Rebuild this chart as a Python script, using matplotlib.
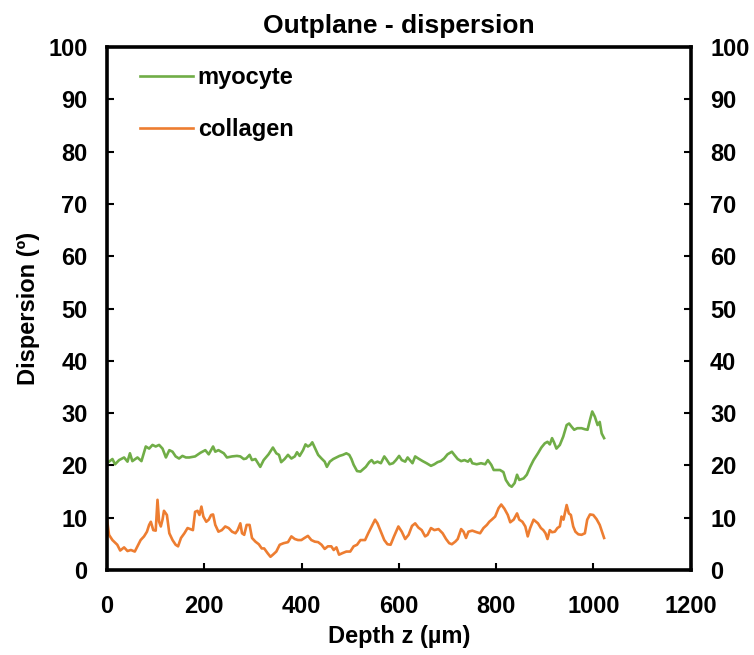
import matplotlib
matplotlib.use("Agg")
import matplotlib.pyplot as plt

# Depth profiles (µm) and dispersion (degrees)
myocyte_depth = [0, 11, 16.5, 24.7, 35, 42, 47, 52, 62.5, 70.7, 79.6, 86.5, 93.4, 100, 107, 114, 121, 128, 134.6, 141, 148, 155, 162, 169,
                 181, 192, 202, 209, 218, 222.5, 229, 240, 246.5, 257, 267, 274, 281, 286, 293, 298, 305, 315, 322, 332, 341,
                 348, 353.5, 358, 365, 372, 379, 386, 390.6, 396, 403, 408, 413, 418, 422, 427, 434, 441, 447.5, 452, 458, 465,
                 471.6, 478, 485, 492, 498, 502.5, 507, 514, 521,
                 532, 539, 544, 549, 556, 563, 570, 574, 581, 588, 594, 600.5, 606, 613, 618, 622.5, 628, 633.5, 640, 649, 657,
                 666, 673, 679.5, 686, 693, 700,
                 709, 714, 721, 728, 735, 742, 747, 751, 760, 769, 777.5, 783, 790, 795, 801.5, 808, 815, 820, 827, 832, 838,
                 843, 847.6, 856.5, 863, 870, 877,
                 886, 893, 900, 905.6, 910.4, 915, 919, 924, 931, 938, 945, 950, 955, 960.5, 967, 975.6, 982.5, 988, 993,
                 997.6, 1003, 1008.6, 1013, 1017, 1022]
myocyte = [20.4, 21.2, 20.2, 21.0, 21.5, 20.7, 22.3, 20.8, 21.5, 20.8, 23.6, 23.2, 23.9, 23.6, 23.9, 23.2, 21.5, 22.9, 22.6, 21.7, 21.3, 21.8, 21.5, 21.5,
           21.7, 22.4, 22.9, 22.1, 23.6, 22.6, 22.9, 22.3, 21.5, 21.7, 21.8, 21.7, 21.2, 21.3, 22.0, 21.0, 21.2, 19.7, 21.0, 22.1, 23.4,
           22.3, 22.0, 20.6, 21.2, 22.0, 21.3, 21.7, 22.5, 21.8, 22.9, 24.0, 23.6, 23.9, 24.4, 23.4, 22.0, 21.3, 20.7, 19.7, 20.7, 21.2,
           21.5, 21.8, 22.0, 22.3, 22.0, 21.2, 20.1, 18.9, 18.8,
           19.7, 20.6, 21.0, 20.4, 20.7, 20.4, 21.7, 21.2, 20.2, 20.4, 21.0, 21.8, 21.0, 20.7, 21.5, 21.0, 20.4, 21.7, 21.3, 20.8, 20.4,
           19.9, 20.2, 20.6, 20.8, 21.3, 22.1,
           22.6, 22.0, 21.2, 20.8, 21.0, 20.7, 21.2, 20.4, 20.2, 20.4, 20.2, 21.0, 20.1, 19.1, 19.1, 19.1, 18.7, 17.2, 16.2, 15.9, 16.6,
           18.2, 17.2, 17.5, 18.2, 19.7, 21.0,
           22.3, 23.4, 24.2, 24.5, 24.0, 25.2, 24.4, 23.2, 23.9, 25.5, 27.7, 28.0, 27.4, 26.8, 27.1, 27.1, 26.9, 26.8, 28.7,
           30.3, 29.3, 27.7, 28.3, 26.1, 25.2]

collagen_depth = [0, 4, 11, 21, 27, 35, 42, 49, 57, 62.5, 69, 76, 82, 86.5, 90, 95, 100, 103.7, 107, 110.5, 114, 117, 123, 128, 134.6,
                  141, 146, 152, 159, 165.5,
                  171, 176.5, 181, 186, 190, 194, 198, 204, 209, 214, 218, 222.5, 229, 236, 243, 250, 257, 264, 268.5, 274, 277.5,
                  282, 287, 293, 298, 305, 312, 318, 323, 330, 336, 341,
                  348, 355, 363, 372, 379, 386, 392.6, 399.5, 406, 413, 420, 427, 434, 441, 447.5, 454, 461, 466, 471.6, 477,
                  484, 492, 500, 507, 514, 521,
                  530.5, 537, 544, 551, 556, 563, 570, 576.5, 583, 590, 599, 606, 613, 620, 627, 633.5, 640, 647, 654, 659, 666,
                  673, 681.5, 690, 697,
                  703.5, 709, 716, 721, 728, 733, 738, 743, 751, 760, 767, 774, 781, 786, 791, 798, 805, 810.5, 817, 824, 829,
                  836, 843, 847.6, 854, 860, 865, 870, 877,
                  886, 892, 897, 901.5, 905.6, 910.4, 915, 920.7, 926, 931, 934.4, 938.5, 945, 949.5, 953.7, 958.5, 963, 969,
                  975.6, 982.5, 987.3, 993, 999.7, 1006.5, 1013, 1022]
collagen = [9.6, 6.7, 5.7, 4.8, 3.7, 4.3, 3.6, 3.8, 3.5, 4.5, 5.7, 6.4, 7.3, 8.6, 9.2, 7.6, 7.5, 13.4, 9.2, 8.3, 9.6, 11.3, 10.5, 7.0, 5.7,
            4.8, 4.5, 6.1, 7.0, 8.0,
            7.8, 7.6, 11.1, 11.3, 10.5, 12.1, 10.2, 9.2, 9.6, 10.5, 10.6, 8.6, 7.3, 7.6, 8.3, 8.0, 7.3, 7.0, 7.6, 8.9, 7.0,
            6.7, 8.6, 8.6, 6.1, 5.4, 4.9, 4.1, 4.1, 3.2, 2.5, 2.9,
            3.5, 4.8, 5.1, 5.3, 6.4, 5.9, 5.7, 5.7, 6.1, 6.5, 5.7, 5.4, 5.3, 4.8, 4.0, 4.5, 4.5, 3.8, 4.3, 2.9,
            3.2, 3.5, 3.5, 4.5, 4.8, 5.7,
            5.7, 7.0, 8.3, 9.6, 8.9, 7.3, 5.7, 4.9, 4.8, 6.4, 8.3, 7.3, 5.9, 6.7, 8.4, 8.9, 8.1, 7.6, 6.4, 6.7, 8.0,
            7.6, 7.8, 7.0, 5.9,
            5.1, 4.9, 5.4, 5.9, 7.8, 7.3, 6.1, 7.3, 7.5, 7.2, 7.0, 8.0, 8.6, 9.2, 9.6, 10.2, 11.8, 12.5, 11.7, 10.5, 9.1,
            9.6, 10.8, 9.6, 9.2, 8.3, 6.4, 8.0, 9.6,
            8.9, 8.0, 7.6, 7.0, 5.9, 7.6, 7.2, 7.3, 8.0, 8.3, 10.2, 9.6, 12.4, 10.8, 10.5, 8.3, 7.3, 6.8,
            6.7, 7.0, 9.6, 10.6, 10.5, 9.7, 8.6, 6.1]

x_ticks = [0, 200, 400, 600, 800, 1000, 1200]
y_ticks = [0, 10, 20, 30, 40, 50, 60, 70, 80, 90, 100]

plt.rcParams['font.family'] = ['Liberation Sans', 'DejaVu Sans']
plt.rcParams['font.weight'] = 'bold'

fig = plt.figure(figsize=(7.54, 6.55), dpi=100)
ax = fig.add_axes([0.142, 0.130, 0.774, 0.798])

green = '#70AD47'
orange = '#ED7D31'
ax.plot(myocyte_depth, myocyte, color=green, lw=1.9, label='myocyte')
ax.plot(collagen_depth, collagen, color=orange, lw=1.9, label='collagen')

ax.set_xlim(0, 1200)
ax.set_ylim(0, 100)
ax.set_xticks(x_ticks)
ax.set_yticks(y_ticks)

fs = 17
for s in ax.spines.values():
    s.set_linewidth(2.6)
ax.tick_params(axis='both', direction='in', length=5, width=1.5, labelsize=fs,
               right=True, labelright=True, top=False)
ax.tick_params(axis='y', pad=14)
ax.tick_params(axis='x', pad=18)
for lab in ax.get_xticklabels() + ax.get_yticklabels():
    lab.set_fontweight('bold')

ax.set_xlabel('Depth z (µm)', fontsize=fs, fontweight='bold', labelpad=5)
ax.set_ylabel('Dispersion (º)', fontsize=fs, fontweight='bold', labelpad=6)
ax.set_title('Outplane - dispersion', fontsize=19, fontweight='bold', pad=10)

leg = ax.legend(loc='upper left', frameon=False, fontsize=fs, handlelength=2.24,
                labelspacing=1.23, handletextpad=0.2, borderaxespad=0, borderpad=0,
                bbox_to_anchor=(0.0565, 0.9637))
for t in leg.get_texts():
    t.set_fontweight('bold')

fig.savefig('out.png', dpi=100)
